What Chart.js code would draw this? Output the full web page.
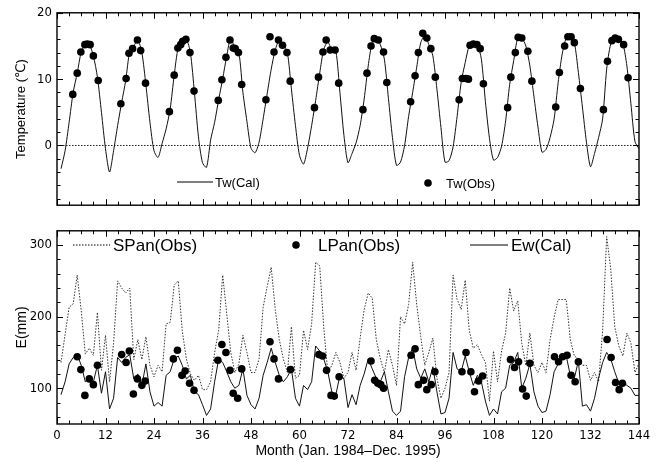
<!DOCTYPE html>
<html lang="en">
<head>
<meta charset="UTF-8">
<title>Tw and pan evaporation 1984-1995</title>
<script src="https://cdn.jsdelivr.net/npm/chart.js"></script>
<style>
  body { margin: 0; background: #fff; }
  #wrap { position: relative; width: 671px; height: 462px; }
  .panel { position: absolute; left: 0; width: 671px; }
</style>
</head>
<body>
<div id="wrap">
  <div class="panel" style="top:0;height:218px"><canvas id="tempChart"></canvas></div>
  <div class="panel" style="top:218px;height:244px"><canvas id="evapChart"></canvas></div>
</div>
<script>
// month index, Jan 1984 = 1
const months = Array.from({ length: 144 }, (_, i) => i + 1);

// water temperature, calculated (deg C), one row per year
const twCal = [
  -3.5, -0.8, 3.5, 8.0, 10.9, 14.1, 15.2, 15.2, 13.5, 10.3, 5.0, -0.5,
  -4.0, -0.8, 3.0, 6.5, 9.8, 14.2, 15.0, 15.9, 14.0, 9.1, 3.5, -0.8,
  -1.8, 0.3, 2.5, 5.5, 10.6, 14.8, 15.7, 16.0, 14.0, 8.0, 1.3, -2.6,
  -3.3, 0.8, 3.5, 6.9, 10.1, 13.5, 16.3, 14.6, 14.0, 8.0, 3.6, -0.4,
  -1.1, 0.5, 4.0, 7.8, 11.5, 14.4, 15.9, 15.2, 14.0, 8.5, 3.0, -1.5,
  -2.8, -0.4, 3.0, 6.8, 10.9, 14.5, 15.6, 14.4, 14.2, 8.0, 1.5, -2.6,
  -1.2, 0.4, 3.0, 7.0, 12.0, 15.5, 16.1, 15.2, 13.0, 7.1, 1.2, -3.0,
  -2.5, 0.0, 4.4, 8.0, 11.8, 15.5, 16.6, 15.2, 13.5, 8.5, 2.7, -2.5,
  -2.3, -0.2, 4.4, 9.5, 12.5, 15.0, 15.3, 15.2, 13.0, 6.6, 1.1, -2.2,
  -1.8, -0.1, 3.7, 9.2, 12.8, 16.2, 16.2, 15.0, 12.0, 7.4, 2.8, -1.0,
  -0.6, 1.2, 4.0, 9.5, 13.8, 16.2, 16.4, 15.5, 11.0, 5.8, 0.5, -3.2,
  -1.2, 1.2, 4.0, 11.5, 15.3, 16.2, 16.0, 15.4, 12.0, 6.3, 0.6, -0.5
];

// water temperature, observed
const twObsMonth = [
  3.9, 5.0, 5.9, 6.9, 7.5, 8.2, 9.0, 10.2,
  15.8, 17.1, 17.8, 18.7, 19.9, 20.7, 21.9,
  27.8, 29.0, 29.9, 30.6, 31.1, 31.9, 32.9, 33.9,
  39.9, 40.8, 41.8, 42.8, 43.6, 44.1, 44.9, 45.7,
  51.7, 52.7, 53.7, 54.8, 55.8, 56.9, 57.7,
  63.7, 64.7, 65.8, 66.6, 67.6, 68.8, 69.7,
  75.7, 76.7, 77.7, 78.5, 79.5, 80.8, 81.6,
  87.5, 88.6, 89.4, 90.5, 91.5, 92.5, 93.6,
  99.5, 100.3, 101.2, 101.8, 102.2, 103.0, 103.9, 104.7, 105.5,
  111.5, 112.3, 113.4, 114.1, 115.0, 116.5, 117.5,
  123.4, 124.3, 125.6, 126.4, 127.2, 128.0, 129.5,
  135.2, 136.2, 137.3, 138.1, 138.9, 140.2, 141.3
];
const twObsVal = [
  7.7, 10.9, 14.1, 15.2, 15.3, 15.2, 13.5, 9.8,
  6.3, 10.1, 13.9, 14.6, 15.9, 14.3, 9.4,
  5.1, 10.6, 14.7, 15.2, 15.7, 16.0, 14.0, 8.2,
  6.8, 9.9, 13.3, 15.9, 14.7, 14.6, 14.0, 9.2,
  6.9, 16.4, 14.1, 15.9, 15.1, 14.0, 9.7,
  5.7, 10.3, 14.1, 15.9, 14.4, 14.4, 9.4,
  5.4, 10.9, 15.0, 16.1, 15.9, 14.1, 9.5,
  6.6, 10.5, 14.0, 16.9, 16.2, 14.6, 10.3,
  6.9, 10.1, 10.1, 10.0, 15.1, 15.3, 15.2, 14.6, 9.3,
  5.7, 10.3, 14.0, 16.3, 16.2, 14.2, 9.7,
  5.8, 11.0, 15.0, 16.4, 16.4, 15.5, 8.6,
  5.4, 12.7, 15.8, 16.2, 16.0, 15.2, 10.2
];

// small pan evaporation, observed (mm)
const sPanObs = [
  136, 175, 213, 218, 258, 208, 148, 156, 146, 206, 125, 174,
  109, 163, 250, 240, 233, 240, 140, 168, 140, 172, 132, 116,
  132, 123, 190, 192, 244, 250, 180, 141, 120, 111, 118, 98,
  98, 109, 150, 181, 258, 204, 150, 122, 134, 174, 150, 122,
  122, 141, 213, 242, 269, 210, 168, 141, 122, 186, 114, 118,
  181, 154, 190, 276, 271, 185, 122, 132, 150, 136, 114, 122,
  150, 125, 170, 210, 233, 226, 168, 141, 122, 154, 132, 104,
  200, 190, 217, 276, 217, 172, 132, 150, 170, 114, 86, 100,
  122, 258, 224, 210, 251, 181, 156, 161, 147, 136, 82, 152,
  109, 152, 177, 240, 208, 222, 163, 132, 177, 132, 122, 136,
  122, 168, 199, 224, 224, 224, 168, 145, 141, 132, 132, 111,
  122, 109, 180, 312, 267, 186, 159, 145, 177, 163, 122, 135
];

// large pan evaporation, observed (mm)
const lPanMonth = [
  5.0, 5.9, 6.9, 8.0, 9.0, 10.0,
  16.0, 17.1, 17.9, 18.9, 19.9, 21.0, 21.8,
  28.8, 29.8, 30.9, 31.7, 32.8, 33.9,
  39.8, 40.8, 41.8, 42.8, 43.6, 44.7, 45.7,
  52.7, 53.7, 54.8, 57.8,
  64.8, 65.7, 66.7, 67.8, 68.6, 69.8,
  77.7, 78.6, 79.4, 80.1, 80.8,
  87.6, 88.6, 89.4, 90.7, 91.5, 92.6, 93.5,
  100.2, 101.2, 102.4, 103.3, 104.3, 105.3,
  112.2, 113.2, 114.2, 115.2, 116.1, 117.0,
  123.1, 124.1, 125.1, 126.2, 127.2, 128.2, 129.0,
  136.1, 137.1, 138.2, 139.1, 139.9
];
const lPanVal = [
  144, 126, 90, 113, 105, 132,
  147, 136, 152, 92, 113, 104, 110,
  141, 153, 118, 124, 107, 97,
  139, 161, 150, 125, 93, 86, 127,
  165, 141, 113, 126,
  147, 145, 125, 90, 89, 116,
  138, 111, 107, 105, 100,
  146, 155, 105, 111, 98, 105, 123,
  123, 150, 123, 95, 110, 117,
  140, 129, 137, 99, 89, 135,
  144, 137, 144, 146, 118, 109, 137,
  168, 143, 108, 98, 107
];

// water surface evaporation, calculated (mm)
const ewCal = [
  91, 109, 134, 143, 147, 132, 109, 113, 109, 132, 93, 123,
  71, 86, 143, 136, 143, 147, 113, 120, 104, 134, 95, 75,
  80, 75, 118, 123, 141, 145, 132, 113, 118, 95, 91, 77,
  62, 71, 109, 141, 136, 123, 109, 100, 104, 127, 90, 77,
  71, 86, 118, 136, 156, 136, 118, 109, 116, 127, 86, 75,
  104, 98, 109, 159, 152, 141, 123, 95, 91, 118, 113, 73,
  91, 77, 104, 120, 141, 127, 114, 109, 123, 95, 68, 62,
  68, 116, 143, 156, 127, 114, 127, 109, 130, 95, 64, 66,
  86, 150, 127, 123, 145, 123, 104, 118, 109, 82, 62, 71,
  64, 95, 100, 132, 136, 150, 100, 114, 134, 95, 75, 66,
  68, 91, 123, 134, 141, 145, 118, 114, 138, 75, 77, 68,
  86, 114, 136, 150, 141, 123, 107, 109, 104, 100, 90, 90
];

const monthTicks = [0, 12, 24, 36, 48, 60, 72, 84, 96, 108, 120, 132, 144];
const tempTicks = [-8, -6, -4, -2, 0, 2, 4, 6, 8, 10, 12, 14, 16, 18, 20];
const tempLabels = [0, 10, 20];
const evapTicks = [60, 80, 100, 120, 140, 160, 180, 200, 220, 240, 260, 280, 300];
const evapLabels = [100, 200, 300];

const NARROW = "'Liberation Sans Narrow', 'DejaVu Sans Condensed', sans-serif";
const SANS = "'Liberation Sans', 'DejaVu Sans', sans-serif";

function pts(xs, ys) {
  return xs.map((x, i) => ({ x: x, y: ys[i] }));
}

// box round the plot area, with inward ticks on all four sides
const frame = {
  id: 'frame',
  afterDraw(chart, args, opts) {
    const { ctx, chartArea: a, scales: { x, y } } = chart;
    ctx.save();
    ctx.strokeStyle = '#000';
    ctx.lineWidth = 1;
    for (let m = 0; m <= 144; m += 3) {
      const px = Math.round(x.getPixelForValue(m)) + 0.5;
      const len = m % 12 === 0 ? 6 : 3.5;
      ctx.beginPath();
      ctx.moveTo(px, a.bottom); ctx.lineTo(px, a.bottom - len);
      ctx.moveTo(px, a.top); ctx.lineTo(px, a.top + len);
      ctx.stroke();
    }
    opts.ticks.forEach(v => {
      const py = Math.round(y.getPixelForValue(v)) + 0.5;
      const len = opts.labels.includes(v) ? 6 : 3.5;
      ctx.beginPath();
      ctx.moveTo(a.left, py); ctx.lineTo(a.left + len, py);
      ctx.moveTo(a.right, py); ctx.lineTo(a.right - len, py);
      ctx.stroke();
    });
    ctx.lineWidth = 1.4;
    ctx.strokeRect(a.left, a.top, a.right - a.left, a.bottom - a.top);
    ctx.restore();
  }
};

// legend entries placed inside the panel
const panelLegend = {
  id: 'panelLegend',
  afterDraw(chart, args, opts) {
    const ctx = chart.ctx;
    ctx.save();
    ctx.fillStyle = '#000';
    ctx.strokeStyle = '#000';
    opts.items.forEach(it => {
      ctx.beginPath();
      if (it.kind === 'dot') {
        ctx.arc(it.x1, it.y, it.r, 0, Math.PI * 2);
        ctx.fill();
      } else {
        ctx.lineWidth = 1;
        ctx.setLineDash(it.kind === 'dotted' ? [1.5, 1.5] : []);
        ctx.moveTo(it.x1, it.y); ctx.lineTo(it.x2, it.y);
        ctx.stroke();
        ctx.setLineDash([]);
      }
      ctx.font = it.font;
      ctx.textBaseline = 'middle';
      ctx.fillText(it.text, it.tx, it.y + 1);
    });
    ctx.restore();
  }
};

new Chart(document.getElementById('tempChart'), {
  type: 'line',
  data: {
    datasets: [
      {
        label: 'Tw(Obs)', data: pts(twObsMonth, twObsVal), showLine: false,
        pointRadius: 3.8, pointBackgroundColor: '#000', pointBorderWidth: 0
      },
      {
        label: 'Tw(Cal)', data: pts(months, twCal), borderColor: '#111',
        borderWidth: 1, pointRadius: 0, tension: 0.25
      },
      {
        label: 'zero', data: [{ x: 0, y: 0 }, { x: 144, y: 0 }], borderColor: '#222',
        borderWidth: 1, borderDash: [1.5, 1.5], pointRadius: 0
      }
    ]
  },
  options: {
    responsive: true,
    maintainAspectRatio: false,
    animation: false,
    layout: { padding: { top: 11, right: 32, bottom: 6, left: 0 } },
    plugins: {
      legend: { display: false },
      tooltip: { enabled: false },
      frame: { ticks: tempTicks, labels: tempLabels },
      panelLegend: {
        items: [
          { kind: 'line', x1: 177, x2: 213, y: 182, text: 'Tw(Cal)', tx: 215, font: '13px ' + SANS },
          { kind: 'dot', x1: 428, r: 3.8, y: 183, text: 'Tw(Obs)', tx: 446, font: '13px ' + SANS }
        ]
      }
    },
    scales: {
      x: { type: 'linear', min: 0, max: 144, display: false },
      y: {
        min: -9, max: 20,
        afterBuildTicks: s => { s.ticks = tempTicks.map(v => ({ value: v })); },
        afterFit: s => { s.width = 57; },
        grid: { display: false, drawTicks: false },
        border: { display: false },
        ticks: {
          padding: 5, color: '#000', autoSkip: false, font: { family: NARROW, size: 13 },
          callback: v => tempLabels.includes(v) ? String(v) : ''
        },
        title: {
          display: true, text: 'Temperature (℃)', color: '#000',
          font: { family: SANS, size: 13 }, padding: { top: 14, bottom: 0 }
        }
      }
    }
  },
  plugins: [frame, panelLegend]
});

new Chart(document.getElementById('evapChart'), {
  type: 'line',
  data: {
    datasets: [
      {
        label: 'LPan(Obs)', data: pts(lPanMonth, lPanVal), showLine: false,
        pointRadius: 3.8, pointBackgroundColor: '#000', pointBorderWidth: 0
      },
      {
        label: 'Ew(Cal)', data: pts(months, ewCal), borderColor: '#111',
        borderWidth: 1, pointRadius: 0, tension: 0
      },
      {
        label: 'SPan(Obs)', data: pts(months, sPanObs), borderColor: '#333',
        borderWidth: 1, borderDash: [1.5, 1.5], pointRadius: 0, tension: 0
      }
    ]
  },
  options: {
    responsive: true,
    maintainAspectRatio: false,
    animation: false,
    layout: { padding: { top: 8, right: 32, bottom: 0, left: 0 } },
    plugins: {
      legend: { display: false },
      tooltip: { enabled: false },
      frame: { ticks: evapTicks, labels: evapLabels },
      panelLegend: {
        items: [
          { kind: 'dotted', x1: 73, x2: 110, y: 27, text: 'SPan(Obs)', tx: 113, font: '17px ' + SANS },
          { kind: 'dot', x1: 296, r: 3.8, y: 27, text: 'LPan(Obs)', tx: 318, font: '17px ' + SANS },
          { kind: 'line', x1: 470, x2: 508, y: 27, text: 'Ew(Cal)', tx: 511, font: '17px ' + SANS }
        ]
      }
    },
    scales: {
      x: {
        type: 'linear', min: 0, max: 144,
        afterBuildTicks: s => { s.ticks = monthTicks.map(v => ({ value: v })); },
        afterFit: s => { s.height = 38; },
        grid: { display: false, drawTicks: false },
        border: { display: false },
        ticks: {
          padding: 4, color: '#000', maxRotation: 0, autoSkip: false,
          font: { family: NARROW, size: 13 }
        },
        title: {
          display: true, text: 'Month (Jan. 1984–Dec. 1995)', color: '#000',
          font: { family: SANS, size: 14 }, padding: { top: 0, bottom: 2 }
        }
      },
      y: {
        min: 50, max: 320,
        afterBuildTicks: s => { s.ticks = evapTicks.map(v => ({ value: v })); },
        afterFit: s => { s.width = 57; },
        grid: { display: false, drawTicks: false },
        border: { display: false },
        ticks: {
          padding: 5, color: '#000', autoSkip: false, font: { family: NARROW, size: 13 },
          callback: v => evapLabels.includes(v) ? String(v) : ''
        },
        title: {
          display: true, text: 'E(mm)', color: '#000',
          font: { family: SANS, size: 14 }, padding: { top: 14, bottom: 0 }
        }
      }
    }
  },
  plugins: [frame, panelLegend]
});
</script>
</body>
</html>
